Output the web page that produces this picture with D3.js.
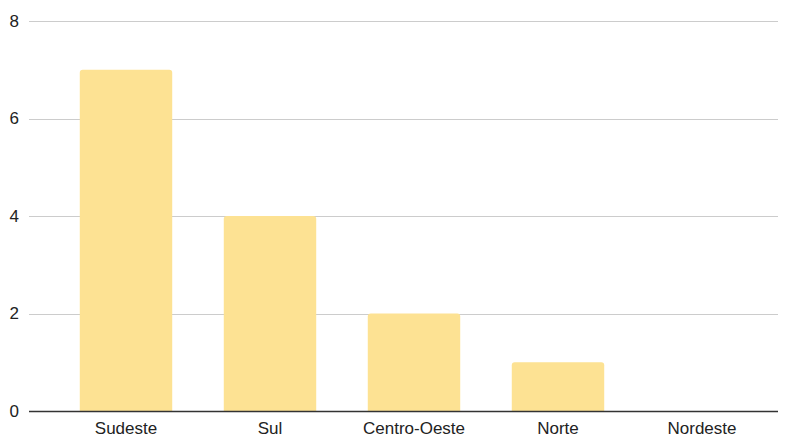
<!DOCTYPE html>
<html>
<head>
<meta charset="utf-8">
<script src="https://cdn.jsdelivr.net/npm/d3@7"></script>
<style>
  body { margin: 0; background: #fff; }
  svg { display: block; font-family: Arial, "Liberation Sans", sans-serif; }
</style>
</head>
<body>
<svg id="chart" width="790" height="438"></svg>
<script>
var regions = [ "Sudeste", "Sul", "Centro-Oeste", "Norte", "Nordeste" ];
var counts = [ 7, 4, 2, 1, 0 ];
var yTicks = [ 0, 2, 4, 6, 8 ];

var svg = d3.select( "#chart" );
var plotLeft = 29, plotRight = 778, plotTop = 21, plotBottom = 411;

var x = d3.scaleBand()
    .domain( regions )
    .range( [ 54, 774 ] )
    .paddingInner( 0.358 )
    .paddingOuter( 0.179 );

var y = d3.scaleLinear().domain( [ 0, 8 ] ).range( [ plotBottom, plotTop ] );

// gridlines
svg.append( "g" )
    .selectAll( "line" )
    .data( yTicks.filter( function( d ) { return d > 0; } ) )
    .join( "line" )
    .attr( "x1", plotLeft ).attr( "x2", plotRight )
    .attr( "y1", function( d ) { return Math.round( y( d ) ) + 0.5; } )
    .attr( "y2", function( d ) { return Math.round( y( d ) ) + 0.5; } )
    .attr( "stroke", "#cccccc" )
    .attr( "stroke-width", 1 );

// y labels
svg.append( "g" )
    .selectAll( "text" )
    .data( yTicks )
    .join( "text" )
    .attr( "x", 19 )
    .attr( "y", function( d ) { return y( d ); } )
    .attr( "dy", "0.35em" )
    .attr( "text-anchor", "end" )
    .attr( "font-size", 17 )
    .attr( "fill", "#222" )
    .text( function( d ) { return d; } );

// bars with slightly rounded top corners
function barPath( d, i ) {
    var x0 = x( regions[ i ] ), w = x.bandwidth(), y0 = y( d ), r = Math.min( 3, plotBottom - y0 );
    if ( d <= 0 ) return "";
    return "M" + x0 + "," + plotBottom +
        "V" + ( y0 + r ) +
        "Q" + x0 + "," + y0 + " " + ( x0 + r ) + "," + y0 +
        "H" + ( x0 + w - r ) +
        "Q" + ( x0 + w ) + "," + y0 + " " + ( x0 + w ) + "," + ( y0 + r ) +
        "V" + plotBottom + "Z";
}

svg.append( "g" )
    .selectAll( "path" )
    .data( counts )
    .join( "path" )
    .attr( "d", barPath )
    .attr( "fill", "#fde293" );

// baseline
svg.append( "line" )
    .attr( "x1", plotLeft ).attr( "x2", plotRight )
    .attr( "y1", plotBottom + 0.5 ).attr( "y2", plotBottom + 0.5 )
    .attr( "stroke", "#333" )
    .attr( "stroke-width", 1.3 );

// x labels
svg.append( "g" )
    .selectAll( "text" )
    .data( regions )
    .join( "text" )
    .attr( "x", function( d ) { return x( d ) + x.bandwidth() / 2; } )
    .attr( "y", 434 )
    .attr( "text-anchor", "middle" )
    .attr( "font-size", 17 )
    .attr( "fill", "#222" )
    .text( function( d ) { return d; } );
</script>
</body>
</html>
